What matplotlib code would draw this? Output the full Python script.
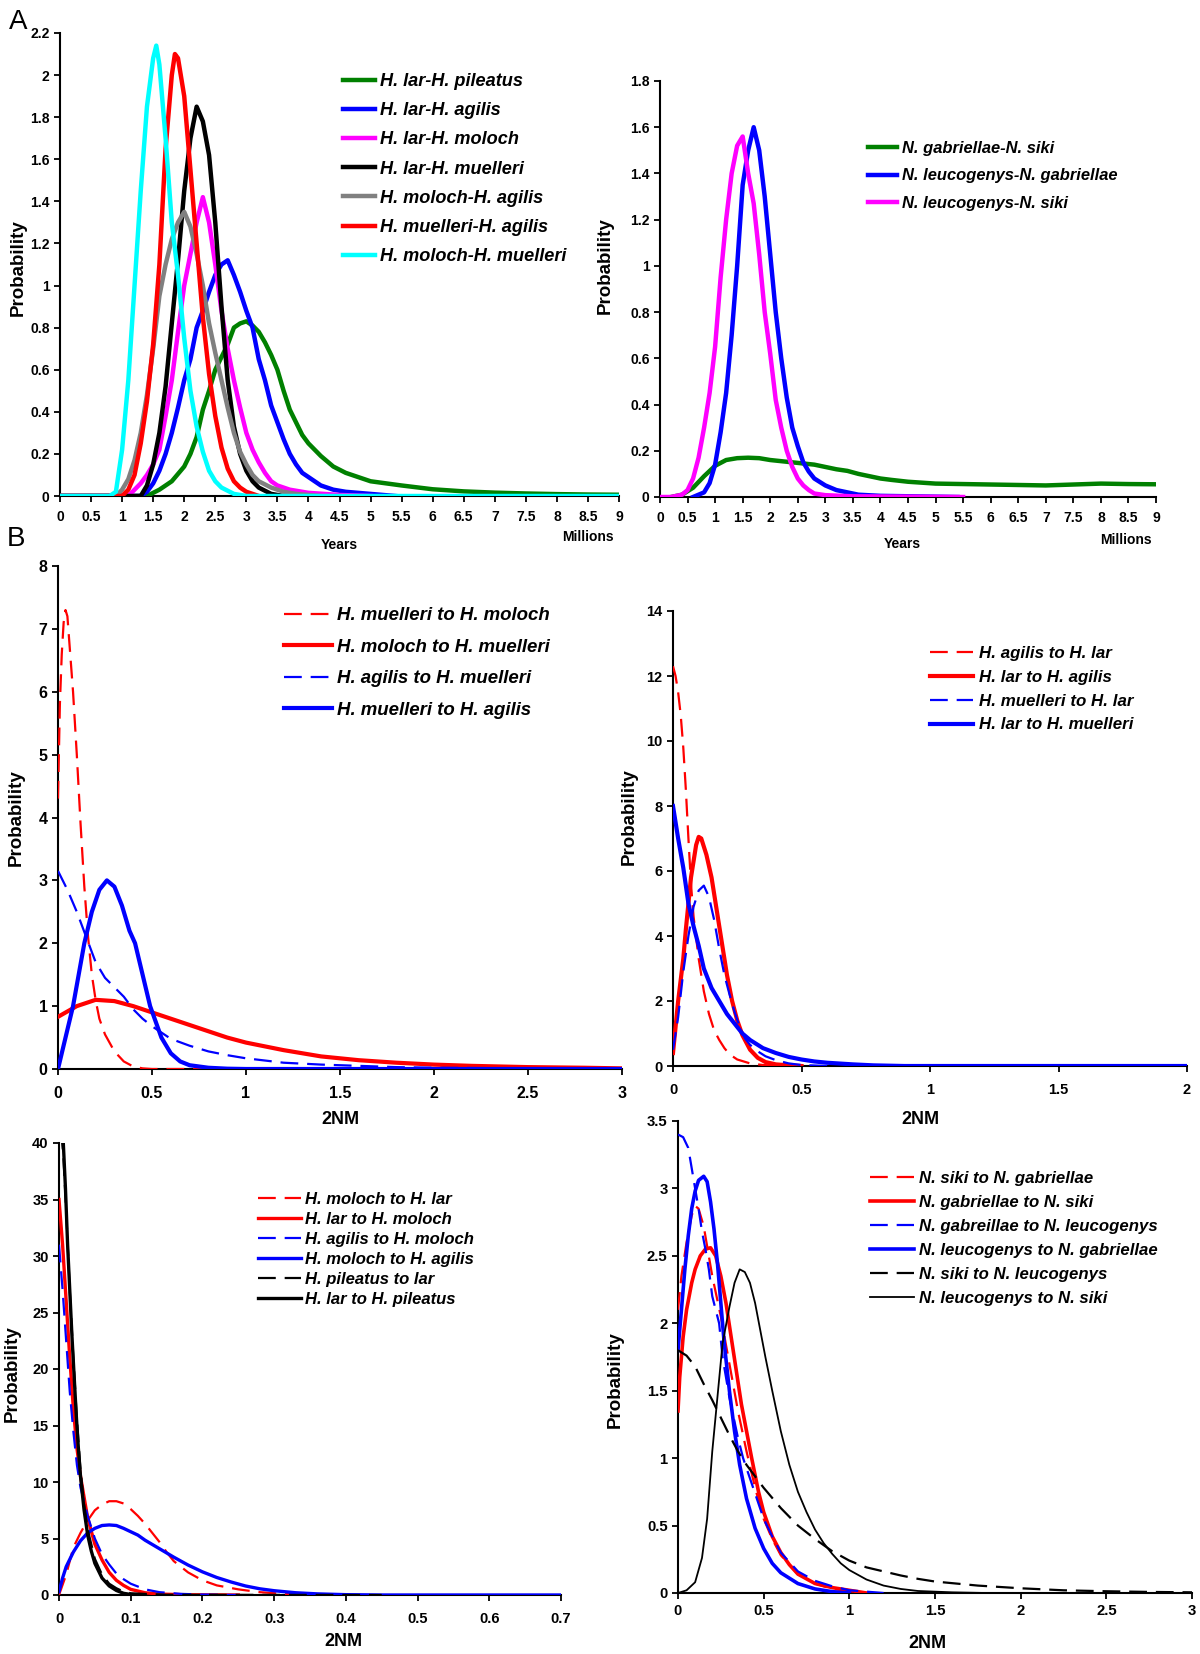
import matplotlib.pyplot as plt
from matplotlib.ticker import MultipleLocator, FuncFormatter

plt.rcParams['font.family'] = ['Liberation Sans', 'DejaVu Sans']

# ---------------- A links: Hylobates, Divergenzzeit (Mio. Jahre)
lar_pil_x = [0, 1.4, 1.6, 1.8, 2.0, 2.1, 2.2, 2.3, 2.4, 2.5, 2.6, 2.7, 2.8, 2.9, 3.0, 3.1, 3.2, 3.3, 3.4, 3.5,
             3.6, 3.7, 3.8, 3.9, 4.0, 4.2, 4.4, 4.6, 4.8, 5.0, 5.5, 6.0, 6.5, 7.0, 7.5, 8.0, 8.5, 9.0]
lar_pil_y = [0, 0, 0.03, 0.07, 0.14, 0.2, 0.28, 0.41, 0.5, 0.6, 0.66, 0.72, 0.8, 0.82, 0.83, 0.81, 0.78, 0.73,
             0.67, 0.6, 0.5, 0.41, 0.35, 0.29, 0.25, 0.19, 0.14, 0.11, 0.09, 0.07, 0.05, 0.032, 0.022, 0.016,
             0.012, 0.009, 0.007, 0.006]
lar_agi_x = [0, 1.3, 1.4, 1.5, 1.6, 1.7, 1.8, 1.9, 2.0, 2.1, 2.2, 2.3, 2.4, 2.5, 2.6, 2.7, 2.8, 2.9, 3.0, 3.1,
             3.2, 3.3, 3.4, 3.5, 3.6, 3.7, 3.8, 3.9, 4.0, 4.2, 4.4, 4.6, 5.0, 5.4]
lar_agi_y = [0, 0, 0.02, 0.06, 0.12, 0.2, 0.3, 0.42, 0.55, 0.65, 0.8, 0.88, 0.97, 1.05, 1.1, 1.12, 1.05, 0.97,
             0.88, 0.8, 0.65, 0.55, 0.43, 0.35, 0.27, 0.2, 0.15, 0.11, 0.09, 0.05, 0.03, 0.02, 0.01, 0]
lar_mol_x = [0, 1.1, 1.2, 1.3, 1.4, 1.5, 1.6, 1.7, 1.8, 1.9, 2.0, 2.1, 2.2, 2.3, 2.4, 2.5, 2.6, 2.7, 2.8, 2.9,
             3.0, 3.1, 3.2, 3.3, 3.4, 3.5, 3.7, 4.0, 4.5, 5.0]
lar_mol_y = [0, 0, 0.03, 0.06, 0.1, 0.15, 0.22, 0.38, 0.55, 0.78, 1.0, 1.15, 1.3, 1.42, 1.3, 1.1, 0.88, 0.7,
             0.55, 0.42, 0.3, 0.22, 0.16, 0.11, 0.07, 0.05, 0.03, 0.015, 0.005, 0]
lar_mue_x = [0, 1.3, 1.4, 1.5, 1.6, 1.7, 1.8, 1.9, 2.0, 2.1, 2.2, 2.3, 2.4, 2.5, 2.6, 2.7, 2.8, 2.9, 3.0, 3.1,
             3.2, 3.4, 3.6]
lar_mue_y = [0, 0, 0.05, 0.15, 0.3, 0.52, 0.82, 1.12, 1.45, 1.7, 1.85, 1.78, 1.62, 1.3, 0.9, 0.55, 0.33, 0.2,
             0.12, 0.07, 0.04, 0.01, 0]
mol_agi_x = [0, 0.9, 1.0, 1.1, 1.2, 1.3, 1.4, 1.5, 1.6, 1.7, 1.8, 1.9, 2.0, 2.1, 2.2, 2.3, 2.4, 2.5, 2.6, 2.7,
             2.8, 2.9, 3.0, 3.1, 3.2, 3.4, 3.6, 3.8, 4.2]
mol_agi_y = [0, 0, 0.03, 0.08, 0.17, 0.3, 0.48, 0.7, 0.95, 1.1, 1.22, 1.3, 1.35, 1.28, 1.15, 1.0, 0.82, 0.68,
             0.55, 0.42, 0.3, 0.21, 0.15, 0.1, 0.07, 0.04, 0.02, 0.01, 0]
mue_agi_x = [0, 1.0, 1.1, 1.2, 1.3, 1.4, 1.5, 1.6, 1.7, 1.8, 1.85, 1.9, 2.0, 2.1, 2.2, 2.3, 2.4, 2.5, 2.6, 2.7,
             2.8, 2.9, 3.0, 3.2]
mue_agi_y = [0, 0, 0.03, 0.1, 0.25, 0.45, 0.72, 1.1, 1.65, 2.0, 2.1, 2.08, 1.9, 1.55, 1.2, 0.85, 0.58, 0.38,
             0.23, 0.13, 0.07, 0.04, 0.02, 0]
mol_mue_x = [0, 0.8, 0.9, 1.0, 1.1, 1.2, 1.3, 1.4, 1.5, 1.55, 1.6, 1.7, 1.8, 1.9, 2.0, 2.1, 2.2, 2.3, 2.4, 2.5,
             2.6, 2.8, 3.0, 9.0]
mol_mue_y = [0, 0, 0.02, 0.22, 0.55, 1.0, 1.45, 1.85, 2.08, 2.14, 2.05, 1.7, 1.3, 1.05, 0.75, 0.5, 0.33, 0.21,
             0.12, 0.07, 0.04, 0.01, 0, 0]
a_links = [
    ('H. lar-H. pileatus', '#008000', lar_pil_x, lar_pil_y),
    ('H. lar-H. agilis', '#0000ff', lar_agi_x, lar_agi_y),
    ('H. lar-H. moloch', '#ff00ff', lar_mol_x, lar_mol_y),
    ('H. lar-H. muelleri', '#000000', lar_mue_x, lar_mue_y),
    ('H. moloch-H. agilis', '#808080', mol_agi_x, mol_agi_y),
    ('H. muelleri-H. agilis', '#ff0000', mue_agi_x, mue_agi_y),
    ('H. moloch-H. muelleri', '#00ffff', mol_mue_x, mol_mue_y),
]

# ---------------- A rechts: Nomascus
gab_sik_x = [0.2, 0.4, 0.6, 0.8, 1.0, 1.2, 1.4, 1.6, 1.8, 2.0, 2.2, 2.4, 2.6, 2.8, 3.0, 3.2, 3.4, 3.6, 3.8, 4.0,
             4.2, 4.5, 5.0, 5.5, 6.0, 6.5, 7.0, 7.5, 8.0, 8.5, 9.0]
gab_sik_y = [0, 0.01, 0.04, 0.09, 0.135, 0.16, 0.168, 0.17, 0.168, 0.16, 0.155, 0.15, 0.145, 0.14, 0.13, 0.12,
             0.113, 0.1, 0.09, 0.08, 0.074, 0.066, 0.058, 0.056, 0.054, 0.052, 0.05, 0.054, 0.058, 0.056, 0.055]
leu_gab_x = [0.6, 0.8, 0.9, 1.0, 1.1, 1.2, 1.3, 1.4, 1.5, 1.6, 1.7, 1.8, 1.9, 2.0, 2.1, 2.2, 2.3, 2.4, 2.5, 2.6,
             2.7, 2.8, 3.0, 3.2, 3.4, 3.6, 4.0, 5.4]
leu_gab_y = [0, 0.02, 0.06, 0.14, 0.28, 0.45, 0.7, 1.0, 1.35, 1.5, 1.6, 1.5, 1.3, 1.05, 0.8, 0.6, 0.43, 0.3,
             0.22, 0.15, 0.11, 0.08, 0.05, 0.03, 0.02, 0.01, 0.005, 0]
leu_sik_x = [0, 0.2, 0.4, 0.5, 0.6, 0.7, 0.8, 0.9, 1.0, 1.1, 1.2, 1.3, 1.4, 1.5, 1.6, 1.7, 1.8, 1.9, 2.0, 2.1,
             2.2, 2.3, 2.4, 2.5, 2.6, 2.7, 2.8, 3.0, 3.5, 5.5]
leu_sik_y = [0, 0, 0.01, 0.03, 0.08, 0.17, 0.3, 0.45, 0.65, 0.95, 1.2, 1.4, 1.52, 1.56, 1.4, 1.27, 1.05, 0.8,
             0.62, 0.42, 0.3, 0.2, 0.13, 0.08, 0.05, 0.03, 0.015, 0.008, 0.003, 0]
a_rechts = [
    ('N. gabriellae-N. siki', '#008000', gab_sik_x, gab_sik_y),
    ('N. leucogenys-N. gabriellae', '#0000ff', leu_gab_x, leu_gab_y),
    ('N. leucogenys-N. siki', '#ff00ff', leu_sik_x, leu_sik_y),
]

# ---------------- B oben links: 2NM
b1_rd_x = [0, 0.01, 0.02, 0.03, 0.04, 0.05, 0.06, 0.08, 0.1, 0.12, 0.14, 0.16, 0.18, 0.2, 0.22, 0.25, 0.3, 0.35,
           0.4, 0.45, 0.5, 3.0]
b1_rd_y = [4.3, 5.8, 6.6, 7.1, 7.3, 7.2, 6.8, 6.0, 5.0, 3.9, 2.9, 2.1, 1.5, 1.1, 0.8, 0.55, 0.28, 0.12, 0.04,
           0.01, 0, 0]
b1_rs_x = [0, 0.1, 0.2, 0.3, 0.4, 0.5, 0.6, 0.7, 0.8, 0.9, 1.0, 1.2, 1.4, 1.6, 1.8, 2.0, 2.2, 2.5, 2.8, 3.0]
b1_rs_y = [0.83, 1.0, 1.1, 1.08, 1.0, 0.9, 0.8, 0.7, 0.6, 0.5, 0.42, 0.3, 0.2, 0.14, 0.1, 0.07, 0.05, 0.03,
           0.02, 0.01]
b1_bd_x = [0, 0.05, 0.1, 0.15, 0.2, 0.25, 0.3, 0.35, 0.4, 0.45, 0.5, 0.6, 0.7, 0.8, 0.9, 1.0, 1.2, 1.4, 1.6, 1.8,
           2.0, 2.5, 3.0]
b1_bd_y = [3.15, 2.85, 2.5, 2.1, 1.7, 1.45, 1.3, 1.15, 0.95, 0.8, 0.68, 0.48, 0.37, 0.28, 0.22, 0.17, 0.1,
           0.07, 0.05, 0.03, 0.02, 0.01, 0]
b1_bs_x = [0, 0.04, 0.08, 0.11, 0.14, 0.18, 0.22, 0.26, 0.3, 0.34, 0.38, 0.41, 0.45, 0.49, 0.55, 0.6, 0.65, 0.7,
           0.8, 0.9, 1.0, 3.0]
b1_bs_y = [0, 0.5, 1.0, 1.5, 2.0, 2.5, 2.85, 3.0, 2.9, 2.6, 2.2, 2.0, 1.5, 1.0, 0.5, 0.25, 0.12, 0.06, 0.02,
           0.005, 0, 0]
b_ol = [
    ('H. muelleri to H. moloch', '#ff0000', '--', b1_rd_x, b1_rd_y),
    ('H. moloch to H. muelleri', '#ff0000', '-', b1_rs_x, b1_rs_y),
    ('H. agilis to H. muelleri', '#0000ff', '--', b1_bd_x, b1_bd_y),
    ('H. muelleri to H. agilis', '#0000ff', '-', b1_bs_x, b1_bs_y),
]

# ---------------- B oben rechts
b2_rd_x = [0, 0.01, 0.02, 0.03, 0.04, 0.05, 0.06, 0.07, 0.08, 0.1, 0.12, 0.14, 0.16, 0.18, 0.2, 0.22, 0.25,
           0.3, 0.35, 0.4, 0.5]
b2_rd_y = [12.3, 12.0, 11.5, 10.8, 9.8, 8.5, 7.0, 5.6, 4.6, 3.3, 2.3, 1.6, 1.1, 0.8, 0.55, 0.36, 0.2, 0.08,
           0.03, 0.01, 0]
b2_rs_x = [0, 0.02, 0.04, 0.05, 0.07, 0.09, 0.1, 0.11, 0.13, 0.15, 0.17, 0.19, 0.21, 0.23, 0.25, 0.27, 0.3,
           0.33, 0.36, 0.4, 0.45, 0.5]
b2_rs_y = [0.4, 2.0, 3.3, 4.2, 5.8, 6.8, 7.05, 7.0, 6.5, 5.8, 4.8, 3.8, 2.8, 2.0, 1.4, 0.95, 0.5, 0.25, 0.12,
           0.05, 0.02, 0]
b2_bd_x = [0, 0.02, 0.04, 0.06, 0.08, 0.1, 0.12, 0.14, 0.16, 0.18, 0.2, 0.22, 0.24, 0.26, 0.28, 0.3, 0.33, 0.36,
           0.4, 0.45, 0.5, 0.6]
b2_bd_y = [0.5, 1.5, 2.9, 4.0, 4.9, 5.4, 5.55, 5.2, 4.5, 3.6, 2.8, 2.2, 1.65, 1.2, 0.85, 0.65, 0.45, 0.3, 0.18,
           0.08, 0.03, 0]
b2_bs_x = [0, 0.02, 0.04, 0.06, 0.08, 0.1, 0.12, 0.15, 0.18, 0.21, 0.24, 0.27, 0.3, 0.35, 0.4, 0.45, 0.5, 0.55,
           0.6, 0.7, 0.78, 0.9, 2.0]
b2_bs_y = [8.0, 7.0, 6.1, 5.0, 4.3, 3.7, 3.0, 2.4, 2.0, 1.6, 1.3, 1.0, 0.8, 0.55, 0.4, 0.28, 0.2, 0.14, 0.1,
           0.05, 0.02, 0, 0]
b_or = [
    ('H. agilis to H. lar', '#ff0000', '--', b2_rd_x, b2_rd_y),
    ('H. lar to H. agilis', '#ff0000', '-', b2_rs_x, b2_rs_y),
    ('H. muelleri to H. lar', '#0000ff', '--', b2_bd_x, b2_bd_y),
    ('H. lar to H. muelleri', '#0000ff', '-', b2_bs_x, b2_bs_y),
]

# ---------------- B unten links
b3_rd_x = [0, 0.01, 0.02, 0.03, 0.04, 0.05, 0.06, 0.07, 0.08, 0.09, 0.1, 0.11, 0.12, 0.13, 0.14, 0.15, 0.16,
           0.18, 0.2, 0.22, 0.25, 0.28, 0.32, 0.36]
b3_rd_y = [0, 1.8, 4.2, 5.5, 6.6, 7.5, 8.0, 8.3, 8.3, 8.1, 7.6, 7.0, 6.3, 5.5, 4.7, 3.8, 3.0, 2.0, 1.3, 0.85,
           0.5, 0.25, 0.08, 0]
b3_rs_x = [0, 0.005, 0.01, 0.015, 0.02, 0.025, 0.03, 0.04, 0.05, 0.06, 0.07, 0.08, 0.09, 0.1, 0.12, 0.14, 0.18,
           0.25]
b3_rs_y = [35, 31, 26, 21, 16.5, 13, 10.5, 6.8, 4.5, 3.1, 2.0, 1.3, 0.85, 0.5, 0.2, 0.08, 0.02, 0]
b3_bd_x = [0, 0.005, 0.01, 0.015, 0.02, 0.025, 0.03, 0.04, 0.05, 0.06, 0.07, 0.08, 0.09, 0.1, 0.12, 0.14, 0.17,
           0.2, 0.25]
b3_bd_y = [31, 27, 22.5, 18, 14.5, 11.5, 9.5, 7.0, 5.0, 3.6, 2.7, 1.9, 1.4, 1.0, 0.5, 0.25, 0.1, 0.04, 0]
b3_bs_x = [0, 0.005, 0.01, 0.02, 0.03, 0.04, 0.05, 0.06, 0.07, 0.08, 0.09, 0.1, 0.11, 0.12, 0.14, 0.16, 0.18,
           0.2, 0.22, 0.24, 0.26, 0.28, 0.3, 0.33, 0.36, 0.4, 0.45, 0.7]
b3_bs_y = [0.3, 1.5, 2.5, 3.8, 4.8, 5.5, 5.9, 6.15, 6.2, 6.15, 5.9, 5.6, 5.3, 4.85, 4.1, 3.35, 2.65, 2.05, 1.55,
           1.15, 0.8, 0.55, 0.38, 0.2, 0.1, 0.03, 0, 0]
b3_kd_x = [0.003, 0.006, 0.01, 0.015, 0.02, 0.025, 0.03, 0.035, 0.04, 0.05, 0.06, 0.07, 0.08, 0.09, 0.1, 0.15,
           0.45]
b3_kd_y = [41, 39, 34, 27, 21, 15.5, 11, 8, 5.8, 3.2, 1.8, 1.0, 0.6, 0.3, 0.15, 0.02, 0]
b3_ks_x = [0.003, 0.006, 0.009, 0.012, 0.015, 0.018, 0.021, 0.024, 0.027, 0.03, 0.035, 0.04, 0.045, 0.05, 0.06,
           0.07, 0.08, 0.09, 0.1, 0.12]
b3_ks_y = [42, 40, 36, 31, 27, 23, 19.5, 16, 13, 10.5, 7.5, 5.3, 3.9, 2.8, 1.5, 0.8, 0.4, 0.15, 0.05, 0]
b_ul = [
    ('H. moloch to H. lar', '#ff0000', '--', b3_rd_x, b3_rd_y),
    ('H. lar to H. moloch', '#ff0000', '-', b3_rs_x, b3_rs_y),
    ('H. agilis to H. moloch', '#0000ff', '--', b3_bd_x, b3_bd_y),
    ('H. moloch to H. agilis', '#0000ff', '-', b3_bs_x, b3_bs_y),
    ('H. pileatus to lar', '#000000', '--', b3_kd_x, b3_kd_y),
    ('H. lar to H. pileatus', '#000000', '-', b3_ks_x, b3_ks_y),
]

# ---------------- B unten rechts
b4_rd_x = [0, 0.02, 0.05, 0.08, 0.1, 0.12, 0.15, 0.2, 0.25, 0.3, 0.35, 0.4, 0.45, 0.5, 0.55, 0.6, 0.7, 0.8, 0.9,
           1.0, 1.1]
b4_rd_y = [2.1, 2.35, 2.6, 2.8, 2.87, 2.85, 2.72, 2.35, 2.05, 1.7, 1.35, 1.05, 0.78, 0.55, 0.4, 0.28, 0.14,
           0.07, 0.03, 0.015, 0]
b4_rs_x = [0, 0.01, 0.03, 0.05, 0.08, 0.1, 0.13, 0.16, 0.19, 0.22, 0.25, 0.28, 0.31, 0.34, 0.37, 0.4, 0.43,
           0.47, 0.5, 0.55, 0.6, 0.65, 0.7, 0.8, 0.9, 1.0, 1.1]
b4_rs_y = [1.35, 1.6, 1.9, 2.1, 2.3, 2.4, 2.5, 2.55, 2.56, 2.5, 2.35, 2.15, 1.9, 1.65, 1.4, 1.2, 1.0, 0.75, 0.6,
           0.42, 0.3, 0.21, 0.14, 0.07, 0.04, 0.02, 0]
b4_bd_x = [0, 0.03, 0.06, 0.08, 0.1, 0.12, 0.14, 0.16, 0.18, 0.2, 0.22, 0.24, 0.26, 0.28, 0.3, 0.32, 0.35,
           0.38, 0.42, 0.46, 0.5, 0.55, 0.6, 0.7, 0.8, 0.9, 1.0, 1.2]
b4_bd_y = [3.4, 3.38, 3.3, 3.15, 3.0, 2.85, 2.68, 2.55, 2.4, 2.2, 2.1, 2.0, 1.75, 1.6, 1.45, 1.33, 1.15, 1.0,
           0.85, 0.7, 0.55, 0.42, 0.3, 0.16, 0.09, 0.05, 0.02, 0]
b4_bs_x = [0, 0.02, 0.04, 0.06, 0.08, 0.1, 0.12, 0.15, 0.17, 0.19, 0.21, 0.23, 0.25, 0.27, 0.3, 0.33, 0.36, 0.4,
           0.45, 0.5, 0.55, 0.6, 0.7, 0.8, 0.9, 1.0]
b4_bs_y = [1.8, 2.1, 2.4, 2.65, 2.85, 2.98, 3.06, 3.09, 3.05, 2.9, 2.7, 2.45, 2.15, 1.85, 1.5, 1.2, 0.95, 0.7,
           0.48, 0.33, 0.22, 0.15, 0.07, 0.03, 0.01, 0]
b4_kd_x = [0, 0.05, 0.1, 0.15, 0.2, 0.25, 0.3, 0.35, 0.4, 0.5, 0.6, 0.7, 0.8, 0.9, 1.0, 1.1, 1.2, 1.3, 1.4, 1.5,
           1.75, 2.0, 2.25, 2.5, 2.75, 3.0]
b4_kd_y = [1.8, 1.76, 1.68, 1.55, 1.43, 1.3, 1.17, 1.05, 0.95, 0.78, 0.63, 0.5, 0.4, 0.31, 0.24, 0.19, 0.16,
           0.13, 0.105, 0.085, 0.055, 0.035, 0.02, 0.013, 0.008, 0.005]
b4_ks_x = [0, 0.05, 0.1, 0.14, 0.17, 0.2, 0.23, 0.26, 0.3, 0.33, 0.36, 0.39, 0.42, 0.45, 0.48, 0.51, 0.55, 0.6,
           0.65, 0.7, 0.75, 0.8, 0.85, 0.9, 0.95, 1.0, 1.1, 1.2, 1.3, 1.4, 1.6, 1.8]
b4_ks_y = [0, 0.02, 0.08, 0.26, 0.55, 1.05, 1.45, 1.85, 2.12, 2.3, 2.4, 2.38, 2.3, 2.15, 1.95, 1.75, 1.5, 1.2,
           0.95, 0.75, 0.6, 0.47, 0.37, 0.29, 0.22, 0.17, 0.1, 0.055, 0.03, 0.015, 0.005, 0]
b_ur = [
    ('N. siki to N. gabriellae', '#ff0000', '--', b4_rd_x, b4_rd_y),
    ('N. gabriellae to N. siki', '#ff0000', '-', b4_rs_x, b4_rs_y),
    ('N. gabreillae to N. leucogenys', '#0000ff', '--', b4_bd_x, b4_bd_y),
    ('N. leucogenys to N. gabriellae', '#0000ff', '-', b4_bs_x, b4_bs_y),
    ('N. siki to N. leucogenys', '#000000', '--', b4_kd_x, b4_kd_y),
    ('N. leucogenys to N. siki', '#000000', '-', b4_ks_x, b4_ks_y),
]

W, H = 1200, 1654
fig = plt.figure(figsize=(12, 16.54), dpi=100)


def achse(l, t, r, b):
    # Pixelkoordinaten (links, oben, rechts, unten) -> Figure-Koordinaten
    return fig.add_axes([l / W, 1 - b / H, (r - l) / W, (b - t) / H])


def stil(ax, xmax, xstep, ymax, ystep, fs, xpad):
    ax.set_xlim(0, xmax)
    ax.set_ylim(0, ymax)
    ax.xaxis.set_major_locator(MultipleLocator(xstep))
    ax.yaxis.set_major_locator(MultipleLocator(ystep))
    fmt = FuncFormatter(lambda v, p: f'{round(v, 6):g}')
    ax.xaxis.set_major_formatter(fmt)
    ax.yaxis.set_major_formatter(fmt)
    for s in ['top', 'right']:
        ax.spines[s].set_visible(False)
    for s in ['left', 'bottom']:
        ax.spines[s].set_linewidth(1.5)
    ax.tick_params(direction='out', length=4, width=1.3, labelsize=fs)
    ax.tick_params(axis='x', pad=xpad)
    ax.tick_params(axis='y', pad=3.5)
    plt.setp(ax.get_xticklabels() + ax.get_yticklabels(), fontweight='bold')


def legende(ax, x, y, fs, hl, ls, pad):
    ax.legend(loc='upper left', bbox_to_anchor=(x / W, 1 - y / H), bbox_transform=fig.transFigure,
              frameon=False, borderpad=0, borderaxespad=0, handlelength=hl, handletextpad=pad,
              labelspacing=ls, prop={'weight': 'bold', 'style': 'italic', 'size': fs})


def ylab(x, y):
    fig.text(x / W, 1 - y / H, 'Probability', rotation=90, ha='center', va='center',
             fontsize=13.5, fontweight='bold')


def xlab(x, y, s, fs):
    fig.text(x / W, 1 - y / H, s, ha='center', va='center', fontsize=fs, fontweight='bold')


# A links
ax = achse(60, 33, 619, 496)
for name, farbe, xs, ys in a_links:
    ax.plot(xs, ys, color=farbe, lw=3.2, label=name, zorder=3)
stil(ax, 9, 0.5, 2.2, 0.2, 10, 6)
legende(ax, 343, 73, 13.1, 1.76, 0.67, 0.27)
ylab(18, 268)
xlab(339, 545, 'Years', 10)
xlab(588, 537, 'Millions', 10)

# A rechts
ax = achse(660, 81, 1156, 497)
for name, farbe, xs, ys in a_rechts:
    ax.plot(xs, ys, color=farbe, lw=3.2, label=name, zorder=3)
stil(ax, 9, 0.5, 1.8, 0.2, 10, 6)
legende(ax, 868, 141, 11.9, 1.76, 0.75, 0.28)
ylab(605, 266)
xlab(902, 544, 'Years', 10)
xlab(1126, 540, 'Millions', 10)


def b_panel(rect, serien, lw_s, lw_d, xmax, xstep, ymax, ystep, fs, xpad, lw_k=None):
    ax = achse(*rect)
    for name, farbe, art, xs, ys in serien:
        if art == '--':
            ax.plot(xs, ys, color=farbe, lw=lw_d, dashes=(8, 4), label=name, zorder=3)
        else:
            breite = lw_k if (lw_k and farbe == '#000000') else lw_s
            ax.plot(xs, ys, color=farbe, lw=breite, label=name, zorder=3)
    stil(ax, xmax, xstep, ymax, ystep, fs, xpad)
    return ax


ax = b_panel((58, 566, 622, 1069), b_ol, 3.0, 1.6, 3, 0.5, 8, 1, 11.5, 8)
legende(ax, 284, 607, 13.4, 2.58, 0.78, 0.28)
ylab(16, 818)
xlab(340, 1120, '2NM', 13)

ax = b_panel((673, 611, 1187, 1066), b_or, 3.0, 1.6, 2, 0.5, 14, 2, 10.5, 8)
legende(ax, 930, 646, 12.2, 2.54, 0.52, 0.35)
ylab(629, 817)
xlab(920, 1120, '2NM', 13)

ax = b_panel((59, 1143, 561, 1595), b_ul, 2.4, 1.6, 0.7, 0.1, 40, 5, 10.5, 8)
legende(ax, 258, 1192, 12, 2.6, 0.3, 0.24)
ylab(12, 1374)
xlab(343, 1642, '2NM', 13)

ax = b_panel((678, 1121, 1192, 1593), b_ur, 2.6, 1.6, 3, 0.5, 3.5, 0.5, 10.7, 4, lw_k=1.3)
legende(ax, 870, 1171, 12.1, 2.62, 0.54, 0.3)
ylab(615, 1380)
xlab(927, 1644, '2NM', 13)

fig.text(18 / W, 1 - 22 / H, 'A', fontsize=20, ha='center', va='center')
fig.text(16 / W, 1 - 539 / H, 'B', fontsize=20, ha='center', va='center')

plt.savefig('out.png', dpi=100)
